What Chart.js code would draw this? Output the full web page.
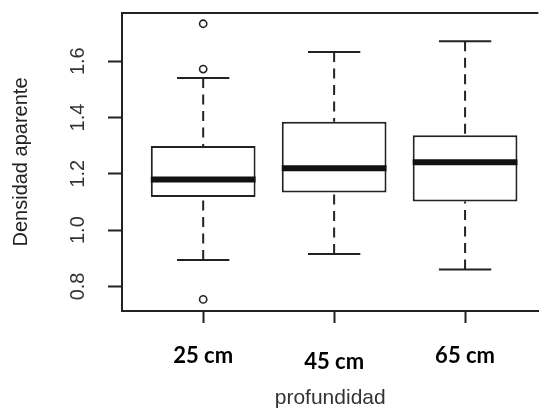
<!DOCTYPE html>
<html>
<head>
<meta charset="utf-8">
<title>Densidad aparente por profundidad</title>
<script src="https://cdn.jsdelivr.net/npm/chart.js@4.4.1/dist/chart.umd.min.js"></script>
<style>
  html, body { margin: 0; padding: 0; background: #fff; overflow: hidden; }
  #wrap { width: 544px; height: 409px; position: relative; }
</style>
</head>
<body>
<div id="wrap"><canvas id="boxChart"></canvas></div>
<script>
// valores
const groups = ["25 cm", "45 cm", "65 cm"];
const xPos = [1, 2, 3];
const lowerWhisker = [0.894, 0.915, 0.860];
const q1 = [1.118, 1.134, 1.102];
const median = [1.180, 1.220, 1.241];
const q3 = [1.299, 1.385, 1.337];
const upperWhisker = [1.540, 1.633, 1.671];
const outliers = [[1.733, 1.572, 0.754], [], []];
const yTicks = [0.8, 1.0, 1.2, 1.4, 1.6];

const INK = "#222";
const SANS = "'Liberation Sans', Arial, Helvetica, sans-serif";
const MED_HALF = 0.4;
const CAP_HALF = 0.2;

// pares de puntos -> una sola serie con cortes
function segments(pairs) {
  const out = [];
  pairs.forEach(([a, b], i) => {
    if (i) out.push({ x: a.x, y: null });
    out.push(a, b);
  });
  return out;
}

const medianData = segments(xPos.map((x, i) => [
  { x: x - MED_HALF, y: median[i] }, { x: x + MED_HALF, y: median[i] }
]));
const whiskerData = segments(xPos.flatMap((x, i) => [
  [{ x, y: lowerWhisker[i] }, { x, y: q1[i] }],
  [{ x, y: upperWhisker[i] }, { x, y: q3[i] }]
]));
const capData = segments(xPos.flatMap((x, i) => [
  [{ x: x - CAP_HALF, y: lowerWhisker[i] }, { x: x + CAP_HALF, y: lowerWhisker[i] }],
  [{ x: x - CAP_HALF, y: upperWhisker[i] }, { x: x + CAP_HALF, y: upperWhisker[i] }]
]));
const outlierData = xPos.flatMap((x, i) => outliers[i].map((y) => ({ x, y })));

const frameTop = {
  id: "frameTop",
  afterDatasetsDraw(chart) {
    const { ctx, chartArea: a } = chart;
    ctx.save();
    ctx.strokeStyle = INK;
    ctx.lineWidth = 2;
    ctx.beginPath();
    ctx.moveTo(a.left, a.top);
    ctx.lineTo(a.right, a.top);
    ctx.stroke();
    ctx.restore();
  }
};

const lineBase = { type: "line", pointRadius: 0, fill: false, tension: 0, borderCapStyle: "butt" };

new Chart(document.getElementById("boxChart").getContext("2d"), {
  data: {
    datasets: [
      { ...lineBase, label: "mediana", data: medianData, borderColor: "#111", borderWidth: 6, order: 0 },
      {
        type: "line", label: "atipicos", data: outlierData, showLine: false,
        pointRadius: 3.6, pointBorderWidth: 1.6, pointBorderColor: INK,
        pointBackgroundColor: "rgba(0,0,0,0)", order: 0
      },
      {
        type: "bar", label: "caja",
        data: xPos.map((x, i) => ({ x, y: [q1[i], q3[i]] })),
        backgroundColor: "#fff", borderColor: INK, borderWidth: 2, borderSkipped: false,
        categoryPercentage: 1, barPercentage: 0.8, order: 1
      },
      { ...lineBase, label: "bigotes", data: whiskerData, borderColor: INK, borderWidth: 2, borderDash: [10, 6.5], order: 2 },
      { ...lineBase, label: "extremos", data: capData, borderColor: INK, borderWidth: 2, order: 2 }
    ]
  },
  options: {
    responsive: true,
    maintainAspectRatio: false,
    animation: false,
    layout: { padding: { top: 13, left: 0, right: 0, bottom: 0 } },
    plugins: { legend: { display: false }, tooltip: { enabled: false } },
    scales: {
      x: {
        type: "linear",
        offset: false,
        min: 0.38,
        max: 3.56,
        afterBuildTicks: (s) => { s.ticks = xPos.map((v) => ({ value: v })); },
        afterFit: (s) => { s.height = 98; s.paddingLeft = 0; s.paddingRight = 0; },
        grid: { offset: false, drawOnChartArea: false, tickLength: 12, tickWidth: 2, tickColor: INK },
        border: { display: true, color: INK, width: 2 },
        ticks: {
          padding: 20,
          color: "#000",
          autoSkip: false,
          maxRotation: 0,
          font: (c) => ({
            family: "Lato, 'Open Sans', sans-serif",
            weight: "bold",
            size: 22,
            lineHeight: c.index === 1 ? "12.5px" : 1.2
          }),
          // la etiqueta central esta un poco mas abajo en el original
          callback: (v) => {
            const i = xPos.indexOf(v);
            return i === 1 ? ["", groups[i]] : groups[i];
          }
        },
        title: {
          display: true,
          text: "profundidad",
          color: "#333",
          font: { family: SANS, size: 21, lineHeight: 1 },
          padding: { top: 0, bottom: 0 }
        }
      },
      y: {
        min: 0.7128,
        max: 1.7712,
        afterBuildTicks: (s) => { s.ticks = yTicks.map((v) => ({ value: v })); },
        afterFit: (s) => { s.width = 122; s.paddingTop = 0; s.paddingBottom = 0; },
        grid: { drawOnChartArea: false, tickLength: 14, tickWidth: 2, tickColor: INK },
        border: { display: true, color: INK, width: 2 },
        ticks: {
          minRotation: 90,
          maxRotation: 90,
          crossAlign: "center",
          padding: 16,
          color: "#333",
          autoSkip: false,
          font: { family: SANS, size: 20 },
          callback: (v) => Number(v).toFixed(1)
        },
        title: {
          display: true,
          text: "Densidad aparente",
          color: "#222",
          font: { family: SANS, size: 20, lineHeight: 1.2 },
          padding: { top: 9, bottom: 0 }
        }
      }
    }
  },
  plugins: [frameTop]
});
</script>
</body>
</html>
